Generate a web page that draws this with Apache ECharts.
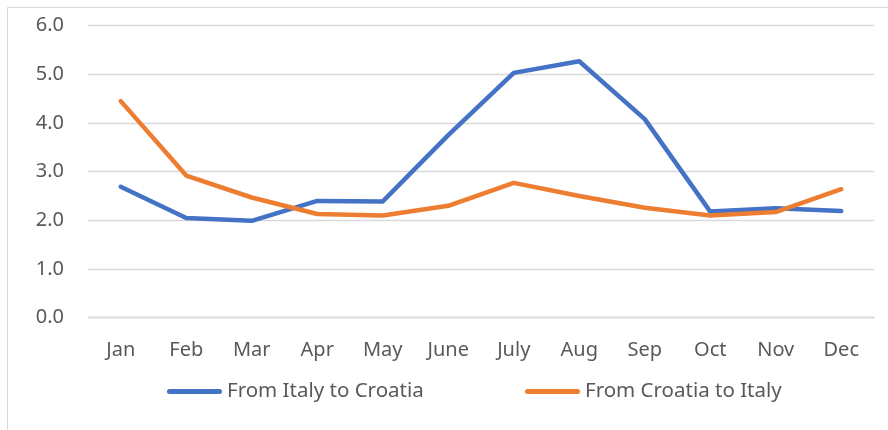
<!DOCTYPE html>
<html><head><meta charset="utf-8">
<script src="https://cdn.jsdelivr.net/npm/echarts@6/dist/echarts.min.js"></script>
<style>html,body{margin:0;padding:0;background:#fff}#c{width:888px;height:430px}</style>
</head><body><div id="c"></div>
<script>
const categories = ['Jan','Feb','Mar','Apr','May','June','July','Aug','Sep','Oct','Nov','Dec'];
const italyToCroatia = [2.69, 2.05, 1.99, 2.40, 2.39, 3.75, 5.03, 5.27, 4.08, 2.18, 2.25, 2.19];
const croatiaToItaly = [4.45, 2.92, 2.47, 2.13, 2.10, 2.30, 2.77, 2.50, 2.26, 2.10, 2.17, 2.64];
const seriesNames = ['From Italy to Croatia', 'From Croatia to Italy'];
const yTicks = { min: 0, max: 6, interval: 1 };

const FONT = 'Noto Sans';
const chart = echarts.init(document.getElementById('c'), null, {renderer: 'canvas'});
const mk = (name, data, color) => ({
  name, type: 'line', data, symbol: 'none', smooth: false,
  lineStyle: { color, width: 4.5, cap: 'round', join: 'round' },
  itemStyle: { color }
});
const legendBase = {
  top: 381, itemWidth: 55, itemHeight: 22, itemGap: 0, padding: 0,
  textStyle: { fontFamily: FONT, fontSize: 20.5, color: '#595959', padding: [0,0,0,0] },
  icon: 'path://M2.5,0 L52.5,0 A2.5,2.5 0 0 1 52.5,5 L2.5,5 A2.5,2.5 0 0 1 2.5,0 Z'
};
chart.setOption({
  animation: false,
  backgroundColor: '#fff',
  graphic: [{ type: 'rect', shape: { x: 7.5, y: 7.5, width: 900, height: 440 },
    style: { fill: 'none', stroke: '#d9d9d9', lineWidth: 1 } }],
  grid: { left: 88, right: 14, top: 25.7, bottom: 112.3 },
  legend: [
    Object.assign({}, legendBase, { left: 167, data: [seriesNames[0]] }),
    Object.assign({}, legendBase, { left: 525, data: [seriesNames[1]] })
  ],
  xAxis: {
    type: 'category', data: categories, boundaryGap: true,
    axisLine: { lineStyle: { color: '#d9d9d9', width: 1.3 } },
    axisTick: { show: false },
    axisLabel: { fontFamily: FONT, fontSize: 20, color: '#595959', margin: 23 }
  },
  yAxis: {
    type: 'value', min: yTicks.min, max: yTicks.max, interval: yTicks.interval,
    axisLine: { show: false }, axisTick: { show: false },
    splitLine: { lineStyle: { color: '#d9d9d9', width: 1.3 } },
    axisLabel: { fontFamily: FONT, fontSize: 20, color: '#595959', margin: 24,
      formatter: v => v.toFixed(1) }
  },
  series: [
    mk(seriesNames[0], italyToCroatia, '#4472C4'),
    mk(seriesNames[1], croatiaToItaly, '#ED7D31')
  ]
});
</script></body></html>
